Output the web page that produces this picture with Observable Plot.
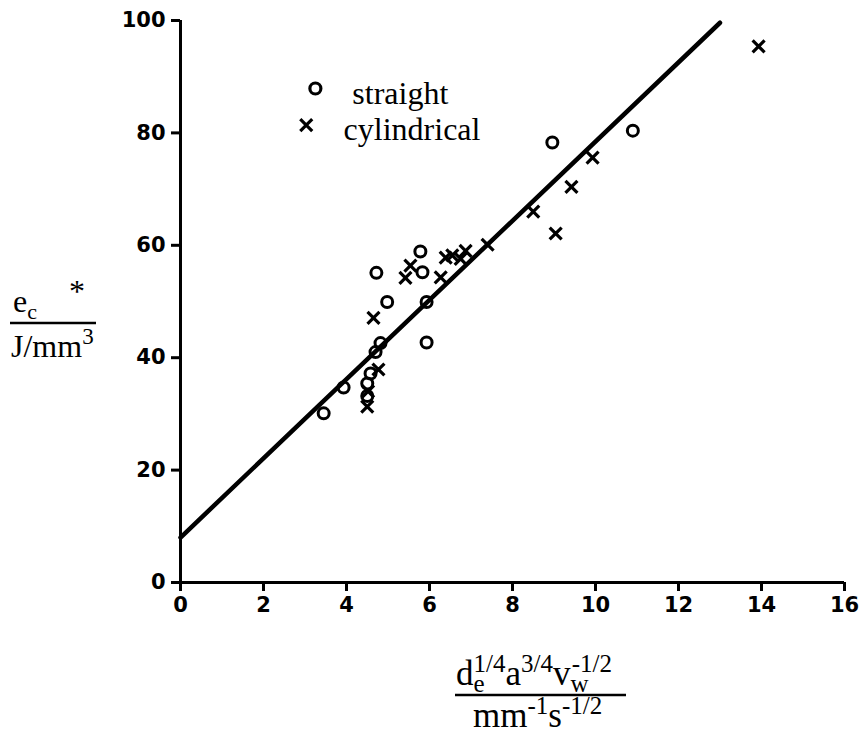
<!DOCTYPE html>
<html>
<head>
<meta charset="utf-8">
<script src="https://cdn.jsdelivr.net/npm/d3@7"></script>
<script src="https://cdn.jsdelivr.net/npm/@observablehq/plot@0.6"></script>
<style>
  html, body { margin: 0; padding: 0; background: #fff; }
</style>
</head>
<body>
<div id="chart"></div>
<script>
// Data
const straightX = [3.45, 3.93, 4.5, 4.5, 4.58, 4.7, 4.82, 4.72, 4.98, 5.93, 5.93, 5.78, 5.83, 8.96, 10.9];
const straightY = [30.1, 34.7, 33.2, 35.4, 37.2, 41.0, 42.6, 55.1, 49.9, 49.9, 42.7, 58.9, 55.2, 78.3, 80.4];

const cylX = [4.5, 4.52, 4.77, 4.65, 5.42, 5.54, 6.27, 6.39, 6.55, 6.75, 6.87, 7.4, 8.5, 9.04, 9.42, 9.93, 13.93];
const cylY = [31.3, 34.0, 37.9, 47.1, 54.2, 56.4, 54.3, 57.8, 58.2, 57.6, 59.0, 60.1, 66.0, 62.1, 70.4, 75.6, 95.4];

const fitX = [0, 13];
const fitY = [8, 99.6];

const xTicks = [0, 2, 4, 6, 8, 10, 12, 14, 16];
const yTicks = [0, 20, 40, 60, 80, 100];

const legendLabels = ["straight", "cylindrical"];
const legendSymbols = ["circle", "times"];
const legendMarkX = [3.25, 3.03];
const legendMarkY = [87.9, 81.4];
const legendTextX = [4.14, 3.93];
const legendTextY = [86.9, 80.6];

const straight = straightX.map((x, i) => ({x, y: straightY[i]}));
const cyl = cylX.map((x, i) => ({x, y: cylY[i]}));
const fit = fitX.map((x, i) => ({x, y: fitY[i]}));
const legendMarks = legendSymbols.map((s, i) => ({s, x: legendMarkX[i], y: legendMarkY[i]}));
const legendTexts = legendLabels.map((t, i) => ({t, x: legendTextX[i], y: legendTextY[i]}));

const chart = Plot.plot({
  width: 866,
  height: 738,
  marginLeft: 180,
  marginRight: 22,
  marginTop: 20,
  marginBottom: 156,
  x: {domain: [0, 16]},
  y: {domain: [0, 100]},
  symbol: {domain: ["circle", "times"], range: ["circle", "times"]},
  style: {fontFamily: "'DejaVu Sans', 'Liberation Sans', sans-serif", fontSize: "21px", fontWeight: "bold", color: "black", background: "white"},
  marks: [
    Plot.axisX({ticks: xTicks, tickSize: 9, tickPadding: 6, strokeWidth: 3, label: null, fontSize: 21, fontWeight: "bold"}),
    Plot.axisY({ticks: yTicks, tickSize: 9, tickPadding: 6, strokeWidth: 3, label: null, fontSize: 21, fontWeight: "bold"}),
    Plot.ruleX([0], {stroke: "black", strokeWidth: 3}),
    Plot.ruleY([0], {stroke: "black", strokeWidth: 3}),
    Plot.line(fit, {x: "x", y: "y", stroke: "black", strokeWidth: 4.5}),
    Plot.dot(straight, {x: "x", y: "y", symbol: "circle", r: 5.5, stroke: "black", strokeWidth: 3, fill: "none"}),
    Plot.dot(cyl, {x: "x", y: "y", symbol: "times", r: 5.5, stroke: "black", strokeWidth: 3.2}),
    Plot.dot(legendMarks, {x: "x", y: "y", symbol: "s", r: 5.5, stroke: "black", strokeWidth: 3.2, fill: "none"}),
    Plot.text(legendTexts, {x: "x", y: "y", text: "t", textAnchor: "start", fontFamily: "'Liberation Serif', 'Times New Roman', serif", fontWeight: "normal", fontSize: 32, fill: "black"})
  ]
});

document.getElementById("chart").appendChild(chart);

// Axis titles (fractions)
const svg = d3.select(chart);
const serif = "'Liberation Serif', 'Times New Roman', serif";
const g = svg.append("g")
  .attr("font-family", serif)
  .attr("fill", "black")
  .attr("font-weight", "normal")
  .attr("text-anchor", "start");

// Y label: e_c* / J/mm^3
const yNum = g.append("text").attr("x", 13).attr("y", 312).attr("font-size", 32);
yNum.append("tspan").text("e");
yNum.append("tspan").attr("dy", 7).attr("font-size", 22).text("c");
yNum.append("tspan").attr("dy", -17).attr("dx", 32).attr("font-size", 32).text("*");
g.append("line").attr("x1", 10).attr("x2", 96).attr("y1", 323).attr("y2", 323).attr("stroke", "black").attr("stroke-width", 2.5);
const yDen = g.append("text").attr("x", 11).attr("y", 357).attr("font-size", 32);
yDen.append("tspan").text("J/mm");
yDen.append("tspan").attr("dy", -13).attr("font-size", 23).text("3");

// X label: d_e^{1/4} a^{3/4} v_w^{-1/2} / mm^{-1} s^{-1/2}
const xNum = g.append("text").attr("x", 456).attr("y", 685).attr("font-size", 35);
xNum.append("tspan").text("d");
xNum.append("tspan").attr("dy", 7).attr("font-size", 25).text("e");
xNum.append("tspan").attr("dy", -20).attr("dx", -11).attr("font-size", 25).text("1/4");
xNum.append("tspan").attr("dy", 13).attr("font-size", 35).text("a");
xNum.append("tspan").attr("dy", -13).attr("font-size", 25).text("3/4");
xNum.append("tspan").attr("dy", 13).attr("font-size", 35).text("v");
xNum.append("tspan").attr("dy", 7).attr("font-size", 25).text("w");
xNum.append("tspan").attr("dy", -20).attr("dx", -17).attr("font-size", 25).text("-1/2");
g.append("line").attr("x1", 455).attr("x2", 626).attr("y1", 695).attr("y2", 695).attr("stroke", "black").attr("stroke-width", 2.5);
const xDen = g.append("text").attr("x", 473).attr("y", 727).attr("font-size", 35);
xDen.append("tspan").text("mm");
xDen.append("tspan").attr("dy", -13).attr("font-size", 25).text("-1");
xDen.append("tspan").attr("dy", 13).attr("font-size", 35).text("s");
xDen.append("tspan").attr("dy", -13).attr("font-size", 25).text("-1/2");
</script>
</body>
</html>
